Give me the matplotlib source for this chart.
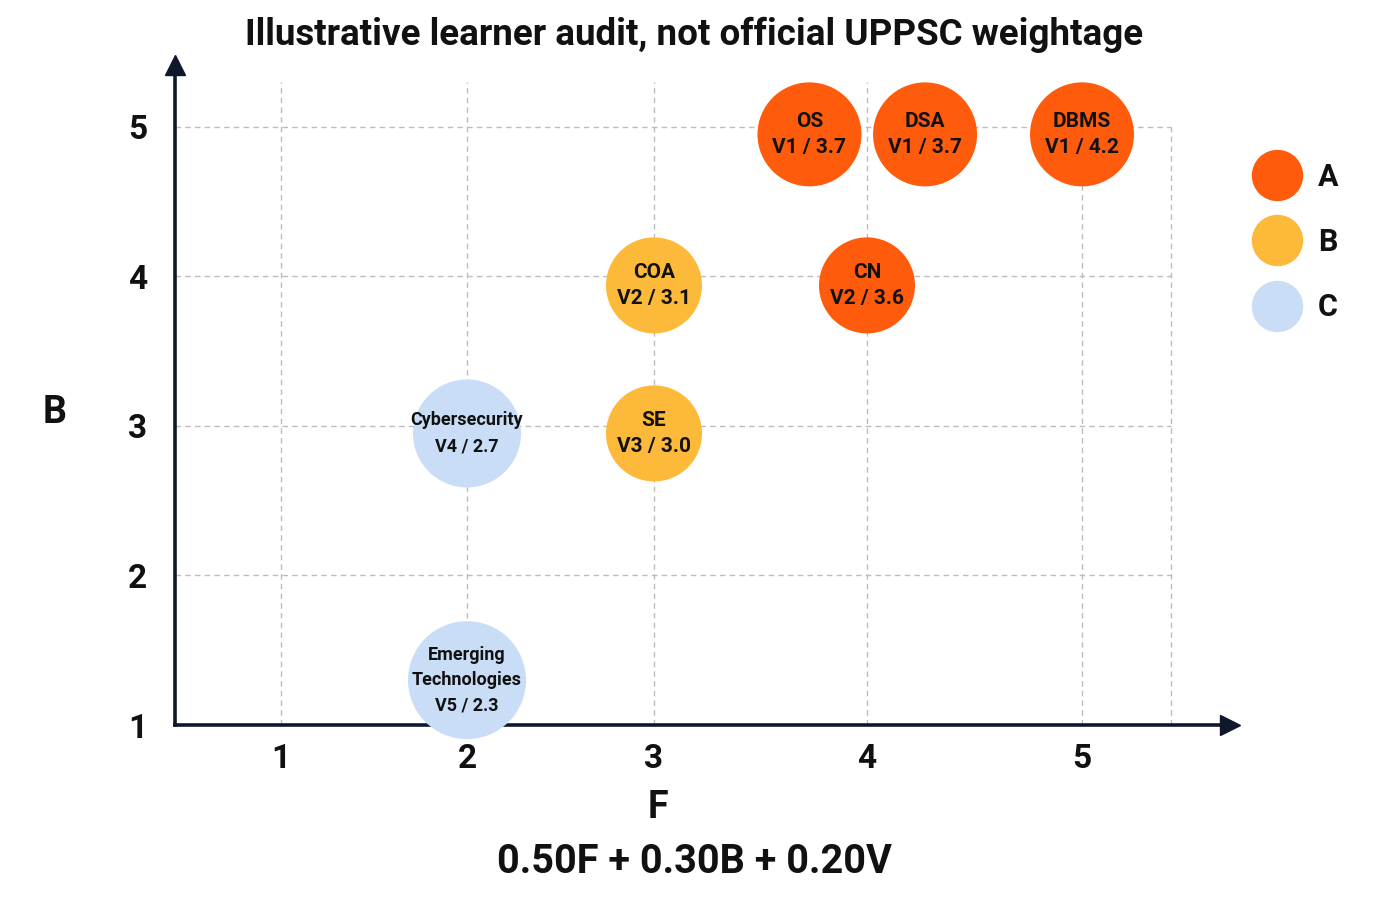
import numpy as np
import matplotlib
matplotlib.use('Agg')
import matplotlib.pyplot as plt
from matplotlib.lines import Line2D

plt.rcParams['font.family'] = ['Roboto', 'DejaVu Sans']

# subjects, F = frequency, B = breadth, V = volatility rank, score
topics = ['OS', 'DSA', 'DBMS', 'CN', 'COA', 'SE', 'Cybersecurity', 'Emerging\nTechnologies']
F = [4, 4, 5, 4, 3, 3, 2, 2]
B = [5, 5, 5, 4, 4, 3, 3, 1]
V = [1, 1, 1, 2, 2, 3, 4, 5]
score = [3.7, 3.7, 4.2, 3.6, 3.1, 3.0, 2.7, 2.3]
tier = ['A', 'A', 'A', 'A', 'B', 'B', 'C', 'C']

tiers = ['A', 'B', 'C']
tier_col = {'A': '#FF5B0C', 'B': '#FDB93A', 'C': '#C9DDF7'}

# small display nudges so overlapping bubbles stay readable
dx = [-0.27, 0.27, 0, 0, 0, 0, 0, 0]
dy = [-0.05, -0.05, -0.05, -0.06, -0.06, -0.05, -0.05, 0.30]
rad_px = [52, 52, 52, 48, 48, 48, 54, 59]
fsize = [15, 15, 15, 15, 15, 15, 13, 13]
lsp = [1.5, 1.5, 1.5, 1.5, 1.5, 1.5, 1.6, 1.5]

ink = '#111111'
axcol = '#0F172A'
wt = 'semibold'

# the F axis in the source is not evenly spaced, mimic it
fx = [1, 2, 3, 4, 5]
px = [281, 467, 654, 867, 1082]

def fwd(x):
    x = np.asarray(x, dtype=float)
    out = np.interp(x, fx, px)
    out = np.where(x < 1, px[0] + (x - 1) * 186, out)
    out = np.where(x > 5, px[-1] + (x - 5) * 215, out)
    return out

def inv(p):
    p = np.asarray(p, dtype=float)
    out = np.interp(p, px, fx)
    out = np.where(p < px[0], 1 + (p - px[0]) / 186, out)
    out = np.where(p > px[-1], 5 + (p - px[-1]) / 215, out)
    return out

fig = plt.figure(figsize=(14, 9), dpi=100)
fig.patch.set_facecolor('white')
ax = fig.add_axes([175/1400, 1 - 725/900, (1230 - 175)/1400, (725 - 65)/900])
ax.set_xscale('function', functions=(fwd, inv))
ax.set_xlim(inv(175), inv(1230))
ax.set_ylim(1, 5.414)

xr = float(inv(1171))
# dashed grid
for y in [2, 3, 4, 5]:
    ax.plot([ax.get_xlim()[0], xr], [y, y], ls=(0, (4, 3)), color='#BDBDBD', lw=1, zorder=0)
for x in fx:
    ax.plot([x, x], [1, 5.3], ls=(0, (4, 3)), color='#BDBDBD', lw=1, zorder=0)
ax.plot([xr, xr], [1, 5], ls=(0, (4, 3)), color='#BDBDBD', lw=1, zorder=0)

for s in ['top', 'right']:
    ax.spines[s].set_visible(False)
for s in ['left', 'bottom']:
    ax.spines[s].set_color(axcol)
    ax.spines[s].set_linewidth(2.6)
ax.plot(1, 0, '>', color=axcol, ms=14, transform=ax.transAxes, clip_on=False)
ax.plot(0, 1, '^', color=axcol, ms=14, transform=ax.transAxes, clip_on=False)

ax.set_xticks(fx)
ax.set_yticks([1, 2, 3, 4, 5])
ax.tick_params(length=0, labelsize=24, colors=ink)
ax.tick_params(axis='x', pad=13)
ax.tick_params(axis='y', pad=20)
for lab in ax.get_xticklabels() + ax.get_yticklabels():
    lab.set_fontweight(wt)

xs = [f + d for f, d in zip(F, dx)]
ys = [b + d for b, d in zip(B, dy)]
sizes = [(2 * r * 0.72) ** 2 for r in rad_px]
cols = [tier_col[t] for t in tier]
ax.scatter(xs, ys, s=sizes, c=cols, edgecolors='none', zorder=5, clip_on=False)

for i in range(len(topics)):
    ax.text(xs[i], ys[i], '%s\nV%d / %.1f' % (topics[i], V[i], score[i]),
            ha='center', va='center', fontsize=fsize[i], fontweight=wt,
            color=ink, linespacing=lsp[i], zorder=6)

fig.text(694/1400, 1 - 35/900, 'Illustrative learner audit, not official UPPSC weightage',
         ha='center', va='center', fontsize=26.5, fontweight=wt, color=ink)
fig.text(658/1400, 1 - 808/900, 'F', ha='center', va='center', fontsize=27,
         fontweight=wt, color=ink)
fig.text(55/1400, 1 - 412/900, 'B', ha='center', va='center', fontsize=27,
         fontweight=wt, color=ink)
fig.text(694/1400, 1 - 862/900, '0.50F + 0.30B + 0.20V', ha='center', va='center',
         fontsize=28.5, fontweight=wt, color=ink)

handles = [Line2D([], [], ls='none', marker='o', ms=37, mfc=tier_col[t], mec='none')
           for t in tiers]
leg = fig.legend(handles, tiers, loc='upper left', bbox_to_anchor=(1251/1400, 1 - 162/900),
                 frameon=False, fontsize=22, borderpad=0, borderaxespad=0,
                 handlelength=1.7, handletextpad=0.5, labelspacing=1.15)
for t in leg.get_texts():
    t.set_color(ink)
    t.set_fontweight(wt)

fig.savefig('out.png', dpi=100, facecolor='white')
